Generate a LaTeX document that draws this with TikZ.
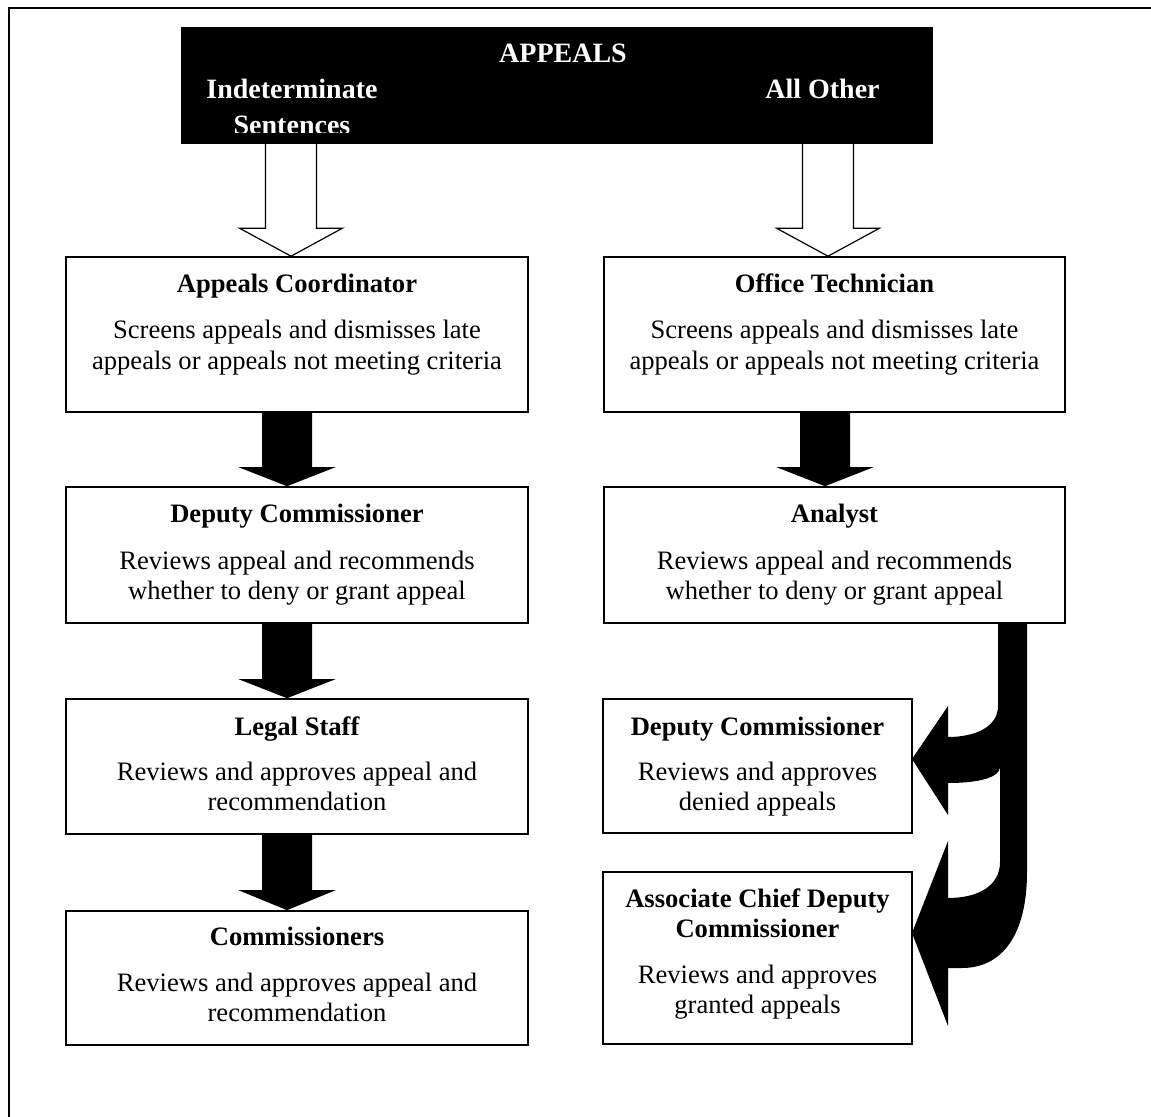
\documentclass[tikz,border=0pt]{standalone}
\usepackage{fontspec}
\setmainfont{Liberation Serif}
\usetikzlibrary{fit,calc}
\tikzset{
  box/.style={draw=black, line width=0.8pt, inner sep=0pt, fill=white},
  hdrbox/.style={fill=black, draw=black, inner sep=0pt},
  ttl/.style={anchor=base, inner sep=0pt, font=\fontsize{13.3}{15}\selectfont\bfseries},
  txt/.style={anchor=base, inner sep=0pt, font=\fontsize{13.3}{15.25}\selectfont},
  hdr/.style={anchor=base, inner sep=0pt, text=white, font=\fontsize{14}{18}\selectfont\bfseries},
  blackblock/.style={fill=black},
  whiteblock/.style={fill=white, draw=black, line width=0.6pt},
  frameline/.style={draw=black, line width=1pt},
}
\newcommand\dnblock[6]{%
  \path[#3] let \p1=(#1), \p2=(#2) in
    (\x2-#4,\y1) -- (\x2-#4,\y2+#6) -- (\x2-#5,\y2+#6) -- (\x2,\y2)
    -- (\x2+#5,\y2+#6) -- (\x2+#4,\y2+#6) -- (\x2+#4,\y1) -- cycle;}
\begin{document}
\begin{tikzpicture}[x=0.5pt,y=-0.5pt]
\useasboundingbox (0,0) rectangle (1151,1117);
% frame
\draw[frameline] (9,1117) -- (9,8) -- (1151,8);
% header
\node[hdrbox, fit={(181,27)(932,143)}] (hdr) {};
\begin{scope}
  \clip (181,27) rectangle (932,132.5);
  \node[hdr] (appeals) at (563,63) {APPEALS};
  \node[hdr] (indet) at (292,99) {\begin{tabular}[t]{@{}c@{}}Indeterminate\\Sentences\end{tabular}};
  \node[hdr] (allother) at (822.5,99) {All Other};
\end{scope}
% left column
\node[box, fit={(66,257)(528,412)}] (ac) {};
\node[ttl] (ac-t) at (297,293) {Appeals Coordinator};
\node[txt] (ac-d) at (297,339) {\begin{tabular}[t]{@{}c@{}}Screens appeals and dismisses late\\appeals or appeals not meeting criteria\end{tabular}};
\node[box, fit={(66,487)(528,623)}] (dcl) {};
\node[ttl] (dcl-t) at (297,523) {Deputy Commissioner};
\node[txt] (dcl-d) at (297,569) {\begin{tabular}[t]{@{}c@{}}Reviews appeal and recommends\\whether to deny or grant appeal\end{tabular}};
\node[box, fit={(66,699)(528,834)}] (ls) {};
\node[ttl] (ls-t) at (297,735) {Legal Staff};
\node[txt] (ls-d) at (297,780) {\begin{tabular}[t]{@{}c@{}}Reviews and approves appeal and\\recommendation\end{tabular}};
\node[box, fit={(66,911)(528,1045)}] (cm) {};
\node[ttl] (cm-t) at (297,945) {Commissioners};
\node[txt] (cm-d) at (297,991) {\begin{tabular}[t]{@{}c@{}}Reviews and approves appeal and\\recommendation\end{tabular}};
% right column
\node[box, fit={(604,257)(1065,412)}] (ot) {};
\node[ttl] (ot-t) at (834.5,293) {Office Technician};
\node[txt] (ot-d) at (834.5,339) {\begin{tabular}[t]{@{}c@{}}Screens appeals and dismisses late\\appeals or appeals not meeting criteria\end{tabular}};
\node[box, fit={(604,487)(1065,623)}] (an) {};
\node[ttl] (an-t) at (834.5,523) {Analyst};
\node[txt] (an-d) at (834.5,569) {\begin{tabular}[t]{@{}c@{}}Reviews appeal and recommends\\whether to deny or grant appeal\end{tabular}};
\node[box, fit={(603,699)(912,833)}] (dcr) {};
\node[ttl] (dcr-t) at (757.5,735) {Deputy Commissioner};
\node[txt] (dcr-d) at (757.5,780) {\begin{tabular}[t]{@{}c@{}}Reviews and approves\\denied appeals\end{tabular}};
\node[box, fit={(603,872)(912,1044)}] (acd) {};
\node[ttl] (acd-t) at (757.5,907) {\begin{tabular}[t]{@{}c@{}}Associate Chief Deputy\\Commissioner\end{tabular}};
\node[txt] (acd-d) at (757.5,983) {\begin{tabular}[t]{@{}c@{}}Reviews and approves\\granted appeals\end{tabular}};
% white block arrows from header
\dnblock{$(hdr.south -| ac.north)+(-6,0)$}{$(ac.north)+(-6,0)$}{whiteblock}{12.75pt}{25.75pt}{14pt}
\dnblock{$(hdr.south -| ot.north)+(-6.5,0)$}{$(ot.north)+(-6.5,0)$}{whiteblock}{12.75pt}{25.75pt}{14pt}
% black block arrows
\dnblock{$(ac.south)+(-10,0)$}{$(dcl.north)+(-10,0)$}{blackblock}{12.5pt}{24.25pt}{9.5pt}
\dnblock{$(dcl.south)+(-10,0)$}{$(ls.north)+(-10,0)$}{blackblock}{12.5pt}{24.25pt}{9.5pt}
\dnblock{$(ls.south)+(-10,0)$}{$(cm.north)+(-10,0)$}{blackblock}{12.5pt}{24.25pt}{10pt}
\dnblock{$(ot.south)+(-9.5,0)$}{$(an.north)+(-9.5,0)$}{blackblock}{12.5pt}{24.25pt}{9.5pt}
% curved split arrow from Analyst
\coordinate (tip1) at (912,759);
\coordinate (tip2) at (912,933);
\fill[black] (998,623) -- (998,706) .. controls (998,727) and (975,737) .. (948,737)
  -- (948,706) -- (tip1) -- (948,815) -- (948,783)
  .. controls (980,783) and (1000,777) .. (1000,767)
  -- (1000,862) .. controls (1000,886) and (978,898) .. (948,898)
  -- (948,841) -- (tip2) -- (948,1026) -- (948,968) -- (962,968)
  .. controls (1002,968) and (1027,935) .. (1027,872) -- (1027,623) -- cycle;
\end{tikzpicture}
\end{document}
